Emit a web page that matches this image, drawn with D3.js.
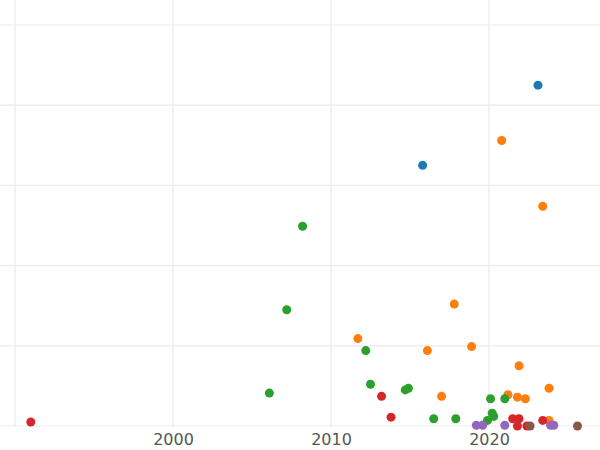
<!DOCTYPE html><html><head><script src="https://d3js.org/d3.v7.min.js"></script>
<style>body{margin:0;background:#fff}</style></head><body><svg width="600" height="450"></svg>
<script>
const xTicks=[1990,2000,2010,2020];
const yTicks=[0,1,2,3,4,5];
const seriesColors=["#1f77b4","#ff7f0e","#2ca02c","#d62728","#9467bd","#8c564b"];
const blueYears=[2023.1,2015.8], blueVals=[4.25,3.25];
const orangeYears=[2020.8,2023.4,2017.8,2011.7,2016.1,2018.9,2021.9,2023.8,2017.0,2021.2,2021.8,2022.3,2023.8];
const orangeVals=[3.56,2.74,1.52,1.09,0.94,0.99,0.75,0.47,0.37,0.39,0.36,0.34,0.07];
const greenYears=[2008.2,2007.2,2012.2,2006.1,2012.5,2014.7,2014.9,2020.1,2021.0,2016.5,2017.9,2020.2,2020.3,2019.9];
const greenVals=[2.49,1.45,0.94,0.41,0.52,0.45,0.47,0.34,0.34,0.09,0.09,0.16,0.12,0.07];
const redYears=[1991.0,2013.2,2013.8,2021.5,2021.9,2023.4,2021.8,2022.4];
const redVals=[0.05,0.37,0.11,0.09,0.09,0.07,0,0];
const purpleYears=[2019.2,2019.6,2021.0,2023.9,2024.1];
const purpleVals=[0.01,0.01,0.01,0.01,0.01];
const brownYears=[2025.6,2022.6];
const brownVals=[0,0];
const series=[[blueYears,blueVals],[orangeYears,orangeVals],[greenYears,greenVals],[redYears,redVals],[purpleYears,purpleVals],[brownYears,brownVals]];
const svg=d3.select("svg");
const x=d3.scaleLinear().domain([1990,2020]).range([15,489]);
const y=d3.scaleLinear().domain([0,5]).range([426,25]);
svg.append("g").selectAll("line").data(xTicks).join("line").attr("x1",d=>x(d)).attr("x2",d=>x(d)).attr("y1",0).attr("y2",426).attr("stroke","#ebebeb").attr("stroke-width",1.2);
svg.append("g").selectAll("line").data(yTicks).join("line").attr("x1",0).attr("x2",600).attr("y1",d=>y(d)).attr("y2",d=>y(d)).attr("stroke","#ebebeb").attr("stroke-width",1.2);
const ax=svg.append("g").attr("transform","translate(0,426)").call(d3.axisBottom(x).tickValues(xTicks.slice(1)).tickFormat(d3.format("d")).tickSize(0).tickPadding(8));
ax.select(".domain").remove();
ax.selectAll("text").attr("font-family","DejaVu Sans").attr("font-size",16).attr("fill","#555");
series.forEach((s,i)=>{
  svg.append("g").selectAll("circle").data(s[0].map((yr,j)=>[yr,s[1][j]])).join("circle")
   .attr("cx",d=>x(d[0])).attr("cy",d=>y(d[1])).attr("r",4.5).attr("fill",seriesColors[i]);
});
</script></body></html>
